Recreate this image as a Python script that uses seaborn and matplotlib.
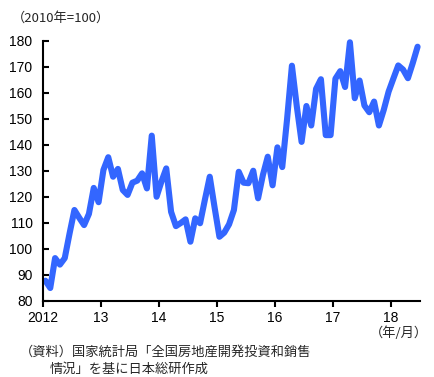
import matplotlib
matplotlib.use("Agg")
import matplotlib.pyplot as plt
import seaborn as sns
import numpy as np
import pandas as pd

# Monthly index, Jan 2012 - Jun 2018 (2010 = 100)
values = [
    87.8, 85.0, 96.5, 94.0, 96.5, 106.0, 115.0, 112.0, 109.2, 113.5, 123.5, 118.0,
    130.4, 135.3, 127.8, 130.8, 122.7, 120.8, 125.5, 126.3, 129.1, 123.3, 143.6, 120.1,
    125.9, 131.0, 114.3, 108.8, 110.0, 111.4, 102.8, 111.8, 109.9, 119.0, 127.8, 116.0,
    104.7, 106.3, 109.5, 115.0, 129.7, 125.5, 125.3, 130.1, 119.5, 128.5, 135.5, 124.5,
    139.1, 131.5, 150.0, 170.5, 155.0, 141.2, 155.0, 147.5, 161.6, 165.3, 143.8, 143.8,
    165.5, 168.4, 162.3, 179.5, 158.0, 164.8, 155.2, 152.6, 156.7, 147.5, 153.5, 160.5,
    165.6, 170.6, 169.0, 165.7, 171.5, 177.8,
]
year_labels = ["2012", "13", "14", "15", "16", "17", "18"]
y_ticks = [80, 90, 100, 110, 120, 130, 140, 150, 160, 170, 180]

df = pd.DataFrame({"month": np.arange(len(values)), "index": values})

sns.set_style("ticks")
plt.rcParams["font.family"] = ["Liberation Sans", "Noto Sans CJK JP"]

fig = plt.figure(figsize=(4.34, 3.77), dpi=100)
ax = fig.add_axes([43 / 434, 76 / 377, 377 / 434, 260 / 377])

sns.lineplot(data=df, x="month", y="index", ax=ax, color="#3366ff",
             linewidth=4.4, solid_joinstyle="round", solid_capstyle="round",
             clip_on=False)

ax.set_xlim(-0.5, len(values) - 0.5)
ax.set_ylim(80, 180)
ax.set_xticks([-0.5 + 12 * i for i in range(len(year_labels))])
ax.set_xticklabels(year_labels)
ax.set_yticks(y_ticks)
ax.set_yticklabels([str(v) for v in y_ticks])
ax.set_xlabel("")
ax.set_ylabel("")

for s in ["top", "right"]:
    ax.spines[s].set_visible(False)
for s in ["left", "bottom"]:
    ax.spines[s].set_color("black")
    ax.spines[s].set_linewidth(1.5)

ax.tick_params(axis="y", direction="in", length=4, width=1.5, labelsize=10,
               pad=7.5, colors="black")
ax.tick_params(axis="x", direction="out", length=4, width=1.5, labelsize=10,
               pad=3, colors="black")

cjk = ["Noto Sans CJK JP", "DejaVu Sans"]
fig.text(12 / 434, 1 - 18 / 377, "（2010年=100）", fontsize=9.5,
         family=cjk, va="center", ha="left")
fig.text(428 / 434, 1 - 333 / 377, "（年/月）", fontsize=9.5,
         family=cjk, va="center", ha="right")
fig.text(20 / 434, 1 - 352 / 377, "（資料）国家統計局「全国房地産開発投資和銷售",
         fontsize=9.5, family=cjk, va="center", ha="left")
fig.text(50 / 434, 1 - 369 / 377, "情況」を基に日本総研作成",
         fontsize=9.5, family=cjk, va="center", ha="left")

fig.savefig("out.png", dpi=100)
